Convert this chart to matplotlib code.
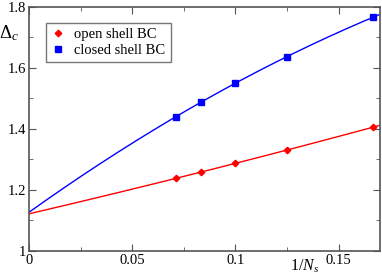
import numpy as np
import matplotlib.pyplot as plt
from matplotlib.ticker import MultipleLocator

# data
inv_ns = [1 / 14, 1 / 12, 1 / 10, 1 / 8, 1 / 6]
open_shell = [1.2385, 1.258, 1.2863, 1.331, 1.405]
closed_shell = [1.440, 1.488, 1.549, 1.636, 1.765]

plt.rcParams['font.family'] = ['Liberation Serif', 'DejaVu Serif']
plt.rcParams['mathtext.fontset'] = 'custom'
plt.rcParams['mathtext.rm'] = 'Liberation Serif'
plt.rcParams['mathtext.it'] = 'Liberation Serif:italic'

fig = plt.figure(figsize=(3.82, 2.8), dpi=100)
ax = fig.add_axes([29 / 382, 1 - 251 / 280, 351 / 382, 244.5 / 280])

xfit = np.linspace(0, 0.17, 200)
for y, col, mk, lab in [(open_shell, 'red', 'D', 'open shell BC'),
                        (closed_shell, 'blue', 's', 'closed shell BC')]:
    coef = np.polyfit(inv_ns, y, 2)
    ax.plot(xfit, np.polyval(coef, xfit), color=col, lw=1)
    ax.plot(inv_ns, y, ls='none', marker=mk, color=col,
            ms=3.3 if mk == 'D' else 3.8, label=lab)

ax.set_xlim(0, 0.17)
ax.set_ylim(1.0, 1.8)
ax.xaxis.set_minor_locator(MultipleLocator(0.025))
ax.yaxis.set_minor_locator(MultipleLocator(0.1))
ax.set_xticks([0, 0.05, 0.1, 0.15])
ax.set_xticklabels(['0', '0.05', '0.1', '0.15'])
ax.set_yticks([1.0, 1.2, 1.4, 1.6, 1.8])
ax.set_yticklabels(['1', '1.2', '1.4', '1.6', '1.8'])
ax.tick_params(which='both', direction='in', top=True, right=True,
               color='#555555', labelsize=10.5, pad=2)
ax.tick_params(which='major', length=5)
ax.tick_params(which='minor', length=3)
for s in ax.spines.values():
    s.set_color('#555555')
    s.set_linewidth(1.2)

fig.text(9 / 382, 1 - 33 / 280, r'$\Delta_c$', fontsize=13.5, ha='center', va='center')
fig.text(305 / 382, 1 - 266 / 280, r'1/$N_s$', fontsize=11.5, ha='center', va='center')

leg = ax.legend(loc='upper left', bbox_to_anchor=(17 / 351, 1 - 16 / 244.5),
                fontsize=10.5, frameon=True, fancybox=False, edgecolor='#555555',
                handlelength=1.0, handletextpad=0.6, borderpad=0.35,
                labelspacing=0.2, borderaxespad=0)
leg.get_frame().set_linewidth(1)

fig.savefig('out.png', dpi=100)
